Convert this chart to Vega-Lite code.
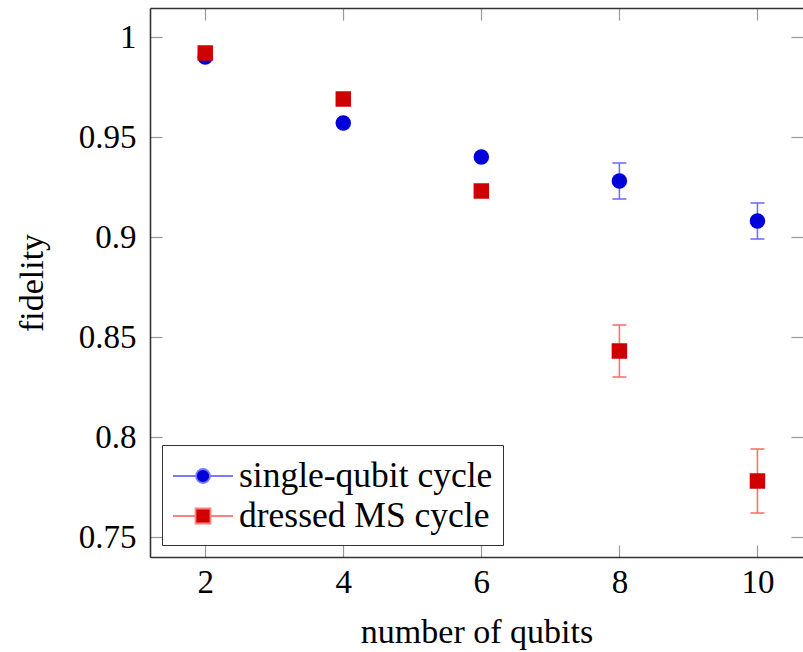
{
  "$schema": "https://vega.github.io/schema/vega-lite/v6.json",
  "autosize": "none",
  "padding": {"left": 150, "top": 8, "right": 0, "bottom": 95},
  "width": 653,
  "height": 549,
  "background": "white",
  "config": {
    "view": {"stroke": null},
    "axis": {
      "labelFont": "Liberation Serif",
      "labelFontSize": 33,
      "labelColor": "#000",
      "titleFont": "Liberation Serif",
      "titleFontSize": 34,
      "titleFontWeight": "normal",
      "titleColor": "#000",
      "domainColor": "#333",
      "domainWidth": 1.6,
      "tickColor": "#999",
      "tickWidth": 1.2,
      "tickSize": -12,
      "grid": false
    },
    "legend": {
      "labelFont": "Liberation Serif",
      "labelFontSize": 35.5,
      "labelColor": "#000",
      "labelLimit": 0,
      "title": null,
      "orient": "bottom-left",
      "offset": 12,
      "padding": 10,
      "strokeColor": "#333",
      "fillColor": "white",
      "symbolSize": 1600,
      "symbolStrokeWidth": 1.8,
      "symbolOpacity": 1,
      "labelOffset": 25,
      "rowPadding": 0
    }
  },
  "data": {
    "values": [
      {"series": "single-qubit cycle", "qubits": 2, "fidelity": 0.990},
      {"series": "single-qubit cycle", "qubits": 4, "fidelity": 0.957},
      {"series": "single-qubit cycle", "qubits": 6, "fidelity": 0.940},
      {"series": "single-qubit cycle", "qubits": 8, "fidelity": 0.928, "lo": 0.919, "hi": 0.937},
      {"series": "single-qubit cycle", "qubits": 10, "fidelity": 0.908, "lo": 0.899, "hi": 0.917},
      {"series": "dressed MS cycle", "qubits": 2, "fidelity": 0.992},
      {"series": "dressed MS cycle", "qubits": 4, "fidelity": 0.969},
      {"series": "dressed MS cycle", "qubits": 6, "fidelity": 0.923},
      {"series": "dressed MS cycle", "qubits": 8, "fidelity": 0.843, "lo": 0.830, "hi": 0.856},
      {"series": "dressed MS cycle", "qubits": 10, "fidelity": 0.778, "lo": 0.762, "hi": 0.794}
    ]
  },
  "layer": [
    {
      "layer": [
        {
          "transform": [{"filter": "datum.lo != null"}],
          "mark": {"type": "rule", "strokeWidth": 1.6},
          "encoding": {
            "x": {"field": "qubits", "type": "quantitative"},
            "y": {"field": "lo", "type": "quantitative"},
            "y2": {"field": "hi"},
            "color": {"condition": {"test": "datum.series === 'single-qubit cycle'", "value": "#7070ff"}, "value": "#ff7070"}
          }
        },
        {
          "transform": [{"filter": "datum.lo != null"}],
          "mark": {"type": "tick", "orient": "horizontal", "size": 14, "thickness": 1.6, "opacity": 1},
          "encoding": {
            "x": {"field": "qubits", "type": "quantitative"},
            "y": {"field": "lo", "type": "quantitative"},
            "color": {"condition": {"test": "datum.series === 'single-qubit cycle'", "value": "#7070ff"}, "value": "#ff7070"}
          }
        },
        {
          "transform": [{"filter": "datum.lo != null"}],
          "mark": {"type": "tick", "orient": "horizontal", "size": 14, "thickness": 1.6, "opacity": 1},
          "encoding": {
            "x": {"field": "qubits", "type": "quantitative"},
            "y": {"field": "hi", "type": "quantitative"},
            "color": {"condition": {"test": "datum.series === 'single-qubit cycle'", "value": "#7070ff"}, "value": "#ff7070"}
          }
        },
        {
          "mark": {"type": "point", "filled": true, "opacity": 1, "size": 240},
          "encoding": {
            "x": {
              "field": "qubits", "type": "quantitative",
              "scale": {"domain": [1.2, 10.66], "nice": false, "zero": false},
              "axis": {"orient": "bottom", "values": [2, 4, 6, 8, 10], "format": "d", "title": "number of qubits", "labelPadding": 21, "titlePadding": 16}
            },
            "y": {
              "field": "fidelity", "type": "quantitative",
              "scale": {"domain": [0.74, 1.0145], "nice": false, "zero": false},
              "axis": {"orient": "left", "values": [0.75, 0.8, 0.85, 0.9, 0.95, 1], "format": "~g", "title": "fidelity", "labelPadding": 26, "titlePadding": 29}
            },
            "color": {"condition": {"test": "datum.series === 'single-qubit cycle'", "value": "#0000d8"}, "value": "#d00000"},
            "shape": {"condition": {"test": "datum.series === 'single-qubit cycle'", "value": "circle"}, "value": "square"}
          }
        },
        {
          "transform": [{"filter": "datum.qubits > 100"}],
          "mark": {"type": "point", "filled": true, "opacity": 1},
          "encoding": {
            "x": {"field": "qubits", "type": "quantitative"},
            "y": {"field": "fidelity", "type": "quantitative"},
            "fill": {
              "field": "series", "type": "nominal",
              "scale": {"domain": ["single-qubit cycle", "dressed MS cycle"], "range": ["#0000d8", "#d00000"]}
            },
            "stroke": {
              "field": "series", "type": "nominal",
              "scale": {"domain": ["single-qubit cycle", "dressed MS cycle"], "range": ["#7a7aff", "#ff8080"]}
            },
            "shape": {
              "field": "series", "type": "nominal",
              "scale": {"domain": ["single-qubit cycle", "dressed MS cycle"], "range": ["M-1,0H0.15M0.85,0H2M0.85,0A0.35,0.35 0 1,1 0.15,0A0.35,0.35 0 1,1 0.85,0Z", "M-1,0H0.125M0.875,0H2M0.125,-0.375H0.875V0.375H0.125Z"]}
            }
          }
        }
      ]
    },
    {
      "mark": {"type": "point", "opacity": 0},
      "encoding": {
        "x": {"field": "qubits", "type": "quantitative", "axis": {"orient": "top", "values": [2, 4, 6, 8, 10], "labels": false, "title": null}},
        "y": {"field": "fidelity", "type": "quantitative", "axis": {"orient": "right", "values": [0.75, 0.8, 0.85, 0.9, 0.95, 1], "labels": false, "title": null, "domain": false}}
      }
    }
  ],
  "resolve": {"axis": {"x": "independent", "y": "independent"}}
}
